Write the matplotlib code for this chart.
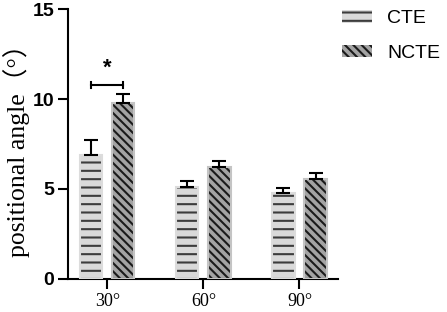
import numpy as np
import matplotlib
matplotlib.use("Agg")
import matplotlib.pyplot as plt
import matplotlib.transforms as mtransforms
from matplotlib.patches import Patch

# === Dati ===
categorie = ["30°", "60°", "90°"]
cte_media = [6.9, 5.1, 4.8]
cte_err = [0.8, 0.35, 0.25]
ncte_media = [9.8, 6.2, 5.55]
ncte_err = [0.5, 0.38, 0.35]
serie = ["CTE", "NCTE"]
sig_altezza = 10.8  # parentesi di significatività sopra il gruppo 30°

plt.rcParams["hatch.linewidth"] = 1.5

fig = plt.figure(figsize=(4.47, 3.12), dpi=100)
ax = fig.add_axes([0.152, 0.106, 0.604, 0.865])

x = np.arange(len(categorie))
w = 0.23
off = 0.167

stili = [
    dict(face="#d9d9d9", hatch="--", hc="#3c3c3c", edge="#dcdcdc"),
    dict(face="#a3a3a3", hatch="\\\\\\\\", hc="#1a1a1a", edge="#c4c4c4"),
]

for i, (media, err) in enumerate([(cte_media, cte_err), (ncte_media, ncte_err)]):
    pos = x - off if i == 0 else x + off
    s = stili[i]
    ax.bar(pos, media, w, color=s["face"], edgecolor=s["hc"], hatch=s["hatch"],
           linewidth=0, zorder=2)
    ax.bar(pos, media, w, fill=False, edgecolor=s["edge"], linewidth=1.5, zorder=3)
    ax.errorbar(pos, media, yerr=[np.zeros(len(err)), err], fmt="none",
                ecolor="black", elinewidth=1.5, capsize=5, capthick=1.5, zorder=4)

# Parentesi significatività
x1, x2 = x[0] - off, x[0] + off
ax.plot([x1, x2], [sig_altezza, sig_altezza], color="black", lw=1.5, zorder=4)
for xx in (x1, x2):
    ax.plot([xx, xx], [sig_altezza - 0.17, sig_altezza + 0.17], color="black", lw=1.5, zorder=4)
ax.text(x[0], sig_altezza + 0.3, "*", ha="center", va="bottom", fontsize=16,
        fontweight="bold", family="Liberation Sans")

ax.set_xlim(-0.41, 2.4)
ax.set_ylim(0, 15)
ax.set_yticks([0, 5, 10, 15])
ax.set_xticks(x)
ax.set_xticklabels(categorie, family="Liberation Serif", fontsize=13)
sposta = mtransforms.ScaledTranslation(-5 / 100, 0, fig.dpi_scale_trans)
for t in ax.get_xticklabels():
    t.set_transform(t.get_transform() + sposta)
for t in ax.get_yticklabels():
    t.set_family("Liberation Sans")
    t.set_fontweight("bold")
    t.set_fontsize(14)

ax.spines["top"].set_visible(False)
ax.spines["right"].set_visible(False)
ax.spines["left"].set_linewidth(1.5)
ax.spines["bottom"].set_linewidth(1.5)
ax.tick_params(axis="both", length=7, width=1.5, pad=3)

ax.set_ylabel("positional angle（°）", family=["Liberation Serif", "Noto Sans CJK SC"],
              fontsize=18.5, labelpad=2)

handles = [Patch(facecolor=stili[i]["face"], edgecolor=stili[i]["hc"],
                 hatch=stili[i]["hatch"], linewidth=0) for i in range(2)]
fig.legend(handles, serie, loc="upper left", bbox_to_anchor=(0.725, 1.025),
           frameon=False, prop={"family": "Liberation Sans", "size": 14},
           handlelength=1.55, handleheight=0.65, handletextpad=0.8, labelspacing=0.9)

fig.savefig("out.png", dpi=100)
